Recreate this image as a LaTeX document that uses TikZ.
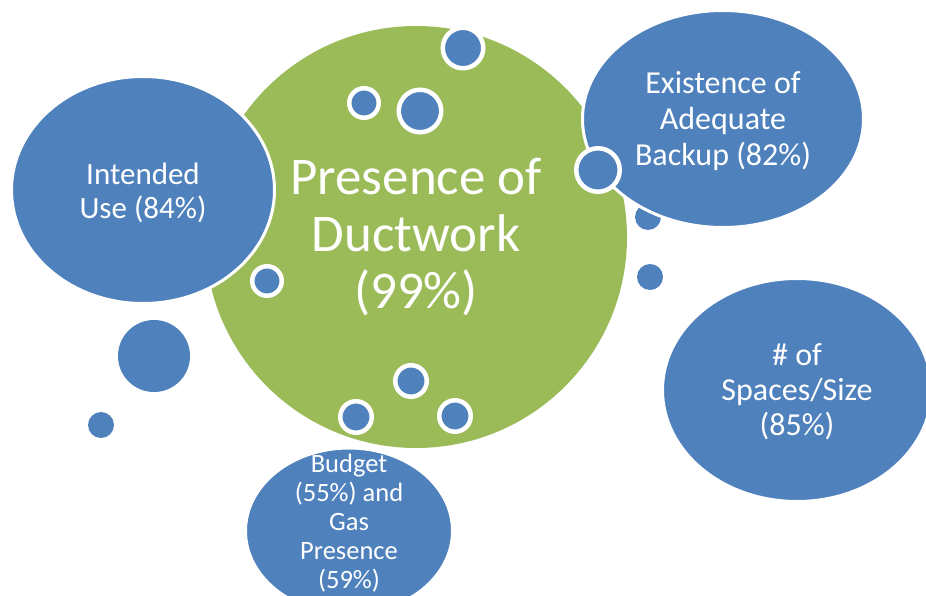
\documentclass[tikz,border=0pt]{standalone}
\usepackage{fontspec}
\setmainfont{Carlito}
\usetikzlibrary{shapes.geometric}
\definecolor{cblue}{HTML}{4F81BD}
\definecolor{cgreen}{HTML}{9BBB59}
\tikzset{
  every picture/.style={x=1pt, y=-1pt},
  hub/.style={circle, fill=cgreen, text=white, align=center, inner sep=0pt, minimum size=#1},
  bubble/.style={ellipse, draw=white, line width=3pt, fill=cblue, inner sep=0pt},
  bubbletext/.style={text=white, align=center, inner sep=0pt},
  ringdot/.style={circle, draw=white, line width=4.5pt, fill=cblue, inner sep=0pt, minimum size=#1},
  plaindot/.style={circle, fill=cblue, inner sep=0pt, minimum size=#1},
}

\begin{document}
\begin{tikzpicture}
  \useasboundingbox (0,0) rectangle (926,596);
  % central circle
  \node[hub=422pt, font=\fontsize{53}{57}\selectfont] (duct) at (416,237) {Presence of\\Ductwork\\(99\%)};
  % dot tucked under the backup bubble
  \node[plaindot=26pt] (dotb) at (648,217) {};
  % outer bubbles
  \node[bubble, minimum width=263pt, minimum height=227pt,
    label={[bubbletext, yshift=-3pt, font=\fontsize{31}{34}\selectfont]center:Intended\\Use (84\%)}] (use) at (143,190) {};
  \node[bubble, minimum width=281pt, minimum height=217pt,
    label={[bubbletext, yshift=-2pt, font=\fontsize{32}{36}\selectfont]center:Existence of\\Adequate\\Backup (82\%)}] (backup) at (723,119) {};
  \node[bubble, minimum width=269pt, minimum height=223pt,
    label={[bubbletext, yshift=-2pt, font=\fontsize{32}{35}\selectfont]center:\# of\\Spaces/Size\\(85\%)}] (spaces) at (797,390) {};
  \node[bubble, minimum width=207pt, minimum height=166pt,
    label={[bubbletext, yshift=8pt, font=\fontsize{26.5}{29}\selectfont]center:Budget\\(55\%) and\\Gas\\Presence\\(59\%)}] (budget) at (349,531) {};
  % ringed dots
  \foreach \px/\py/\d [count=\i] in {463/48/40.5, 364/103/29.5, 420/111/42.5, 267/281/29.5, 598/170/43.5, 411/381/31.5, 356/417/31.5, 455/416/31.5}
    \node[ringdot=\d pt] (ring\i) at (\px,\py) {};
  % plain dots
  \foreach \px/\py/\d [count=\i] in {650/277/26, 154/356/72, 101/425/26}
    \node[plaindot=\d pt] (dot\i) at (\px,\py) {};
\end{tikzpicture}
\end{document}
